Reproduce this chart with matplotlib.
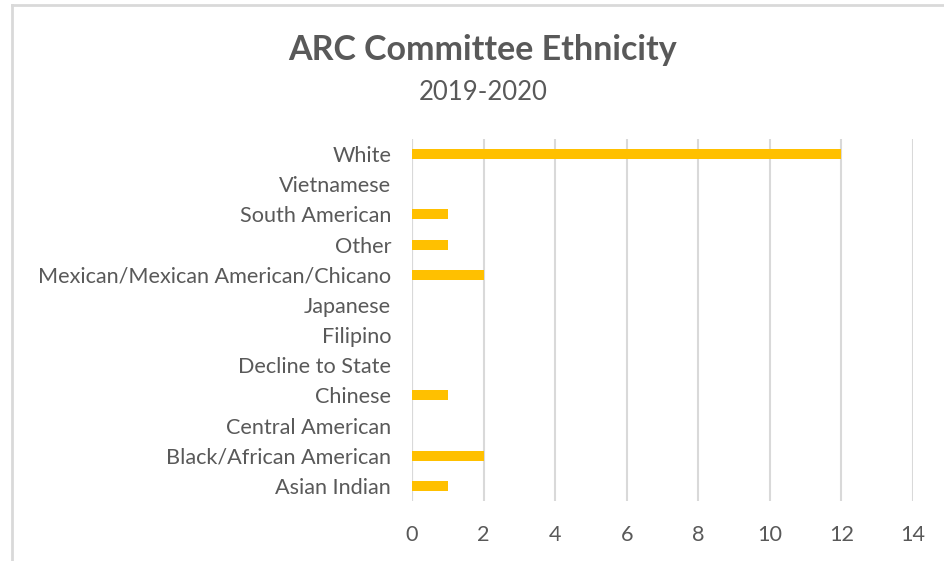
import matplotlib.pyplot as plt
from matplotlib.lines import Line2D

# categories bottom -> top, as in the chart
groups = ["Asian Indian", "Black/African American", "Central American", "Chinese",
          "Decline to State", "Filipino", "Japanese", "Mexican/Mexican American/Chicano",
          "Other", "South American", "Vietnamese", "White"]
counts = [1, 2, 0, 1, 0, 0, 0, 2, 1, 1, 0, 12]
ticks = [0, 2, 4, 6, 8, 10, 12, 14]

grey = "#595959"
plt.rcParams['font.family'] = ['Lato', 'DejaVu Sans']

fig = plt.figure(figsize=(9.45, 5.61), dpi=100)
ax = fig.add_axes([412 / 945, 1 - 501 / 561, 501 / 945, 362 / 561])

ax.barh(range(len(groups)), counts, height=0.33, color="#FFC000", zorder=3)
ax.set_xlim(0, 14)
ax.set_ylim(-0.5, len(groups) - 0.5)
ax.set_xticks(ticks)
ax.set_yticks(range(len(groups)))
ax.set_yticklabels(groups)
ax.grid(axis="x", color="#D9D9D9", linewidth=1.5, zorder=0)
for s in ax.spines.values():
    s.set_visible(False)
ax.axvline(0, color="#D9D9D9", linewidth=1.5, zorder=1)
ax.tick_params(length=0, labelsize=15.6, colors=grey)
ax.tick_params(axis="y", pad=15)
ax.tick_params(axis="x", pad=17)

fig.text(483 / 945, 1 - 50 / 561, "ARC Committee Ethnicity", ha="center", va="center",
         fontsize=24.5, fontweight="bold", color=grey)
fig.text(483 / 945, 1 - 92 / 561, "2019-2020", ha="center", va="center",
         fontsize=18.5, color=grey)

# chart area border (top and left visible)
fig.add_artist(Line2D([12 / 945, 1], [1 - 5 / 561] * 2, color="#D9D9D9", linewidth=2))
fig.add_artist(Line2D([12 / 945] * 2, [0, 1 - 5 / 561], color="#D9D9D9", linewidth=2))

fig.savefig("out.png", dpi=100)
